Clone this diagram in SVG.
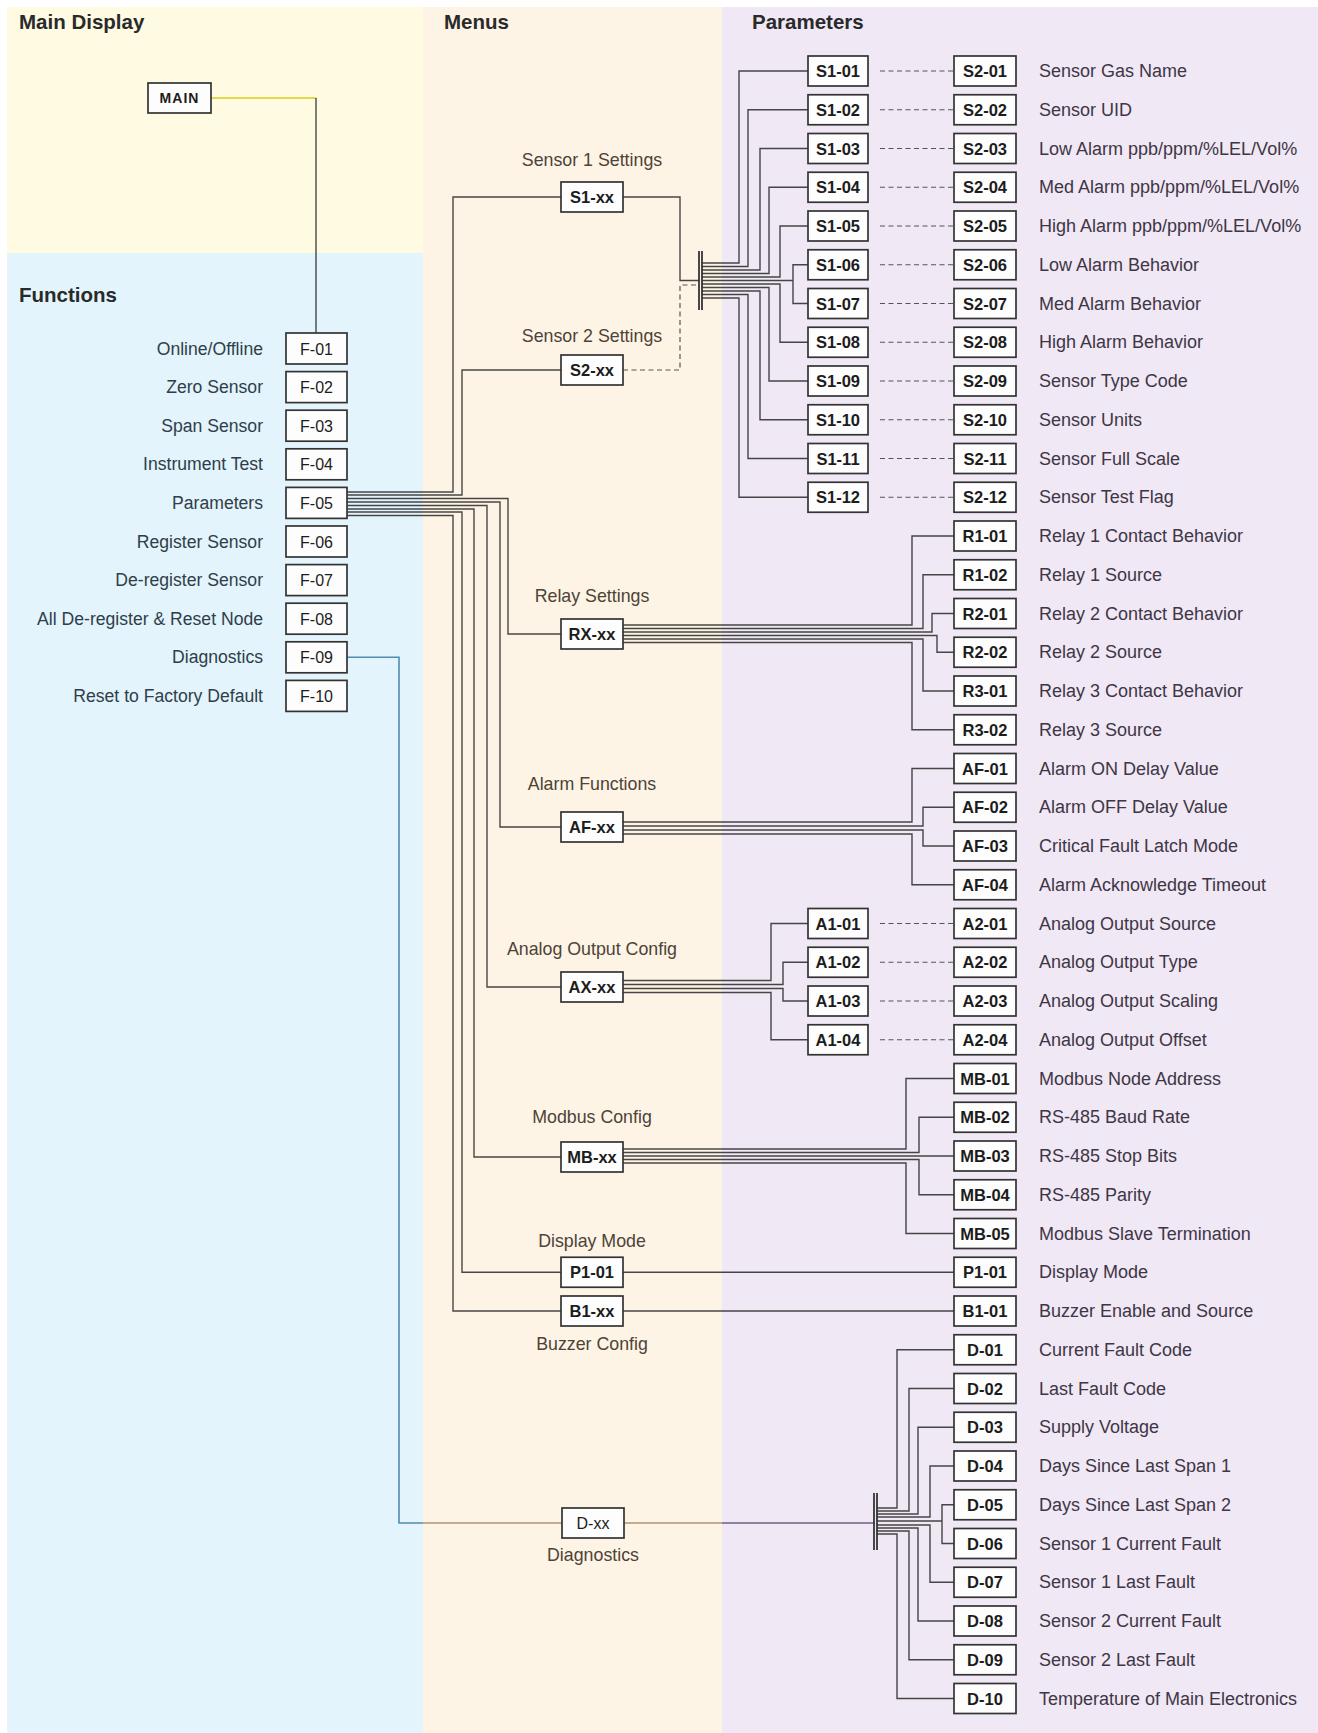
<svg xmlns="http://www.w3.org/2000/svg" width="1318" height="1733" viewBox="0 0 1318 1733">
<style>
.title{font-family:"Liberation Sans",Arial,sans-serif;font-size:20.5px;font-weight:bold;fill:#2a2a2a}
.box{fill:#fdfdfd;stroke:#333;stroke-width:1.7}
.bt{font-family:"Liberation Sans",Arial,sans-serif;font-size:16.5px;font-weight:bold;fill:#1c1c1c;text-anchor:middle}
.ft{font-family:"Liberation Sans",Arial,sans-serif;font-size:16px;fill:#1c1c1c;text-anchor:middle}
.fl{font-family:"Liberation Sans",Arial,sans-serif;font-size:17.6px;fill:#2f3e49;text-anchor:end}
.ml{font-family:"Liberation Sans",Arial,sans-serif;font-size:17.8px;fill:#4d4337;text-anchor:middle}
.pl{font-family:"Liberation Sans",Arial,sans-serif;font-size:18px;fill:#3e3646}
.w{fill:none;stroke:#2e2e2e;stroke-opacity:0.88;stroke-width:1.4}
.dash{fill:none;stroke:#555;stroke-width:1.2;stroke-dasharray:5 3.5}
.bar{fill:none;stroke:#2a2a2a;stroke-width:1.7}
</style>
<rect x="0" y="0" width="1318" height="1733" fill="#ffffff"/>
<g id="panels">
<rect x="7" y="7" width="416" height="246" fill="#fffbe3"/>
<rect x="7" y="253" width="416" height="1480" fill="#e3f4fc"/>
<rect x="423" y="7" width="299" height="1726" fill="#fef4e6"/>
<rect x="722" y="7" width="596" height="1726" fill="#f0e8f4"/>
</g>
<g id="titles">
<text class="title" x="19" y="29">Main Display</text>
<text class="title" x="19" y="302">Functions</text>
<text class="title" x="444" y="29">Menus</text>
<text class="title" x="752" y="29">Parameters</text>
</g>
<g id="connectors">
<path d="M211,98 H316" fill="none" stroke="#e3d94a" stroke-width="1.8"/>
<path class="w" d="M316,98 V333"/>
<path class="w" d="M347,492 H453 V197 H561 M347,495 H462 V370 H561 M347,498.5 H508 V634 H561 M347,502 H500 V827 H561 M347,505.5 H487 V987 H561 M347,509 H474 V1157 H561 M347,512 H462 V1272.25 H561 M347,515.5 H453 V1311 H561"/>
<path d="M347,657.3 H399 V1523 H423" fill="none" stroke="#4f8cb0" stroke-width="1.6"/>
<path d="M423,1523 H562 M624,1523 H722" fill="none" stroke="#b39370" stroke-width="1.6"/>
<path d="M722,1523 H874" fill="none" stroke="#6b5f82" stroke-width="1.6"/>
<path class="w" d="M623,197 H680 V280.5 H699"/>
<path class="dash" d="M623,370 H680 V285 H699"/>
<path class="bar" d="M699,251 V310 M702,251 V310"/>
<path class="w" d="M702,263 H739 V71 H808 M702,266.5 H748 V109.75 H808 M702,270 H760 V148.5 H808 M702,273.5 H769 V187.25 H808 M702,277 H780 V226 H808 M702,280.5 H793 V264.75 H808 M793,280.5 V303.5 H808 M702,284 H780 V342.25 H808 M702,287.5 H769 V381 H808 M702,291 H760 V419.75 H808 M702,294.5 H748 V458.5 H808 M702,298 H739 V497.25 H808"/>
<path class="dash" d="M880,71 H954 M880,109.75 H954 M880,148.5 H954 M880,187.25 H954 M880,226 H954 M880,264.75 H954 M880,303.5 H954 M880,342.25 H954 M880,381 H954 M880,419.75 H954 M880,458.5 H954 M880,497.25 H954"/>
<path class="w" d="M623,625 H912 V536 H954 M623,628.5 H923 V574.75 H954 M623,632 H932 V613.5 H954 M623,635.5 H937 V652.25 H954 M623,639 H923 V691 H954 M623,642.5 H912 V729.75 H954"/>
<path class="w" d="M623,822 H912 V768.5 H954 M623,826 H923 V807.25 H954 M623,830 H923 V846 H954 M623,834 H912 V884.75 H954"/>
<path class="w" d="M623,980.5 H771 V923.5 H808 M623,984.5 H783 V962.25 H808 M623,988.5 H783 V1001 H808 M623,992.5 H771 V1039.75 H808"/>
<path class="dash" d="M880,923.5 H954 M880,962.25 H954 M880,1001 H954 M880,1039.75 H954"/>
<path class="w" d="M623,1149 H906 V1078.5 H954 M623,1152.5 H919 V1117.25 H954 M623,1156 H954 M623,1159.5 H919 V1194.75 H954 M623,1163 H906 V1233.5 H954"/>
<path class="w" d="M623,1272.25 H954 M623,1311 H954"/>
<path class="bar" d="M874,1493 V1550 M877,1493 V1550"/>
<path class="w" d="M877,1508 H897 V1349.75 H954 M877,1511 H909 V1388.5 H954 M877,1514 H918 V1427.25 H954 M877,1517 H930 V1466 H954 M877,1521 H942 V1504.75 H954 M942,1521 V1543.5 H954 M877,1525 H930 V1582.25 H954 M877,1528 H918 V1621 H954 M877,1531 H909 V1659.75 H954 M877,1534 H897 V1698.5 H954"/>
</g>
<g id="n-MAIN"><rect class="box" x="148" y="83" width="63" height="30"/><text class="bt" x="179.5" y="103" style="font-size:14px;letter-spacing:1px">MAIN</text></g>
<g id="n-F-01"><rect class="box" x="286" y="333" width="61" height="31"/><text class="ft" x="316.5" y="354.5">F-01</text><text class="fl" x="263" y="354.5">Online/Offline</text></g>
<g id="n-F-02"><rect class="box" x="286" y="371.6" width="61" height="31"/><text class="ft" x="316.5" y="393.1">F-02</text><text class="fl" x="263" y="393.1">Zero Sensor</text></g>
<g id="n-F-03"><rect class="box" x="286" y="410.2" width="61" height="31"/><text class="ft" x="316.5" y="431.7">F-03</text><text class="fl" x="263" y="431.7">Span Sensor</text></g>
<g id="n-F-04"><rect class="box" x="286" y="448.8" width="61" height="31"/><text class="ft" x="316.5" y="470.3">F-04</text><text class="fl" x="263" y="470.3">Instrument Test</text></g>
<g id="n-F-05"><rect class="box" x="286" y="487.4" width="61" height="31"/><text class="ft" x="316.5" y="508.9">F-05</text><text class="fl" x="263" y="508.9">Parameters</text></g>
<g id="n-F-06"><rect class="box" x="286" y="526" width="61" height="31"/><text class="ft" x="316.5" y="547.5">F-06</text><text class="fl" x="263" y="547.5">Register Sensor</text></g>
<g id="n-F-07"><rect class="box" x="286" y="564.6" width="61" height="31"/><text class="ft" x="316.5" y="586.1">F-07</text><text class="fl" x="263" y="586.1">De-register Sensor</text></g>
<g id="n-F-08"><rect class="box" x="286" y="603.2" width="61" height="31"/><text class="ft" x="316.5" y="624.7">F-08</text><text class="fl" x="263" y="624.7">All De-register &amp; Reset Node</text></g>
<g id="n-F-09"><rect class="box" x="286" y="641.8" width="61" height="31"/><text class="ft" x="316.5" y="663.3">F-09</text><text class="fl" x="263" y="663.3">Diagnostics</text></g>
<g id="n-F-10"><rect class="box" x="286" y="680.4" width="61" height="31"/><text class="ft" x="316.5" y="701.9">F-10</text><text class="fl" x="263" y="701.9">Reset to Factory Default</text></g>
<g id="m-S1-xx"><text class="ml" x="592" y="166">Sensor 1 Settings</text><rect class="box" x="561" y="182" width="62" height="30"/><text class="bt" x="592" y="203">S1-xx</text></g>
<g id="m-S2-xx"><text class="ml" x="592" y="342">Sensor 2 Settings</text><rect class="box" x="561" y="355" width="62" height="30"/><text class="bt" x="592" y="376">S2-xx</text></g>
<g id="m-RX-xx"><text class="ml" x="592" y="602">Relay Settings</text><rect class="box" x="561" y="619" width="62" height="30"/><text class="bt" x="592" y="640">RX-xx</text></g>
<g id="m-AF-xx"><text class="ml" x="592" y="790">Alarm Functions</text><rect class="box" x="561" y="812" width="62" height="30"/><text class="bt" x="592" y="833">AF-xx</text></g>
<g id="m-AX-xx"><text class="ml" x="592" y="955">Analog Output Config</text><rect class="box" x="561" y="972" width="62" height="30"/><text class="bt" x="592" y="993">AX-xx</text></g>
<g id="m-MB-xx"><text class="ml" x="592" y="1123">Modbus Config</text><rect class="box" x="561" y="1142" width="62" height="30"/><text class="bt" x="592" y="1163">MB-xx</text></g>
<g id="m-P1-01"><text class="ml" x="592" y="1247">Display Mode</text><rect class="box" x="561" y="1257.25" width="62" height="30"/><text class="bt" x="592" y="1278.25">P1-01</text></g>
<g id="m-B1-xx"><rect class="box" x="561" y="1296" width="62" height="30"/><text class="bt" x="592" y="1317">B1-xx</text><text class="ml" x="592" y="1350">Buzzer Config</text></g>
<g id="m-D-xx"><rect class="box" x="562" y="1508" width="62" height="30"/><text class="bt" x="593" y="1529" style="font-weight:normal;font-size:16px">D-xx</text><text class="ml" x="593" y="1561">Diagnostics</text></g>
<g id="p-S1-01"><rect class="box" x="808" y="56" width="60" height="30"/><text class="bt" x="838" y="77">S1-01</text></g>
<g id="p-S2-01"><rect class="box" x="954" y="56" width="62" height="30"/><text class="bt" x="985" y="77">S2-01</text><text class="pl" x="1039" y="77">Sensor Gas Name</text></g>
<g id="p-S1-02"><rect class="box" x="808" y="94.75" width="60" height="30"/><text class="bt" x="838" y="115.75">S1-02</text></g>
<g id="p-S2-02"><rect class="box" x="954" y="94.75" width="62" height="30"/><text class="bt" x="985" y="115.75">S2-02</text><text class="pl" x="1039" y="115.75">Sensor UID</text></g>
<g id="p-S1-03"><rect class="box" x="808" y="133.5" width="60" height="30"/><text class="bt" x="838" y="154.5">S1-03</text></g>
<g id="p-S2-03"><rect class="box" x="954" y="133.5" width="62" height="30"/><text class="bt" x="985" y="154.5">S2-03</text><text class="pl" x="1039" y="154.5">Low Alarm ppb/ppm/%LEL/Vol%</text></g>
<g id="p-S1-04"><rect class="box" x="808" y="172.25" width="60" height="30"/><text class="bt" x="838" y="193.25">S1-04</text></g>
<g id="p-S2-04"><rect class="box" x="954" y="172.25" width="62" height="30"/><text class="bt" x="985" y="193.25">S2-04</text><text class="pl" x="1039" y="193.25">Med Alarm ppb/ppm/%LEL/Vol%</text></g>
<g id="p-S1-05"><rect class="box" x="808" y="211" width="60" height="30"/><text class="bt" x="838" y="232">S1-05</text></g>
<g id="p-S2-05"><rect class="box" x="954" y="211" width="62" height="30"/><text class="bt" x="985" y="232">S2-05</text><text class="pl" x="1039" y="232">High Alarm ppb/ppm/%LEL/Vol%</text></g>
<g id="p-S1-06"><rect class="box" x="808" y="249.75" width="60" height="30"/><text class="bt" x="838" y="270.75">S1-06</text></g>
<g id="p-S2-06"><rect class="box" x="954" y="249.75" width="62" height="30"/><text class="bt" x="985" y="270.75">S2-06</text><text class="pl" x="1039" y="270.75">Low Alarm Behavior</text></g>
<g id="p-S1-07"><rect class="box" x="808" y="288.5" width="60" height="30"/><text class="bt" x="838" y="309.5">S1-07</text></g>
<g id="p-S2-07"><rect class="box" x="954" y="288.5" width="62" height="30"/><text class="bt" x="985" y="309.5">S2-07</text><text class="pl" x="1039" y="309.5">Med Alarm Behavior</text></g>
<g id="p-S1-08"><rect class="box" x="808" y="327.25" width="60" height="30"/><text class="bt" x="838" y="348.25">S1-08</text></g>
<g id="p-S2-08"><rect class="box" x="954" y="327.25" width="62" height="30"/><text class="bt" x="985" y="348.25">S2-08</text><text class="pl" x="1039" y="348.25">High Alarm Behavior</text></g>
<g id="p-S1-09"><rect class="box" x="808" y="366" width="60" height="30"/><text class="bt" x="838" y="387">S1-09</text></g>
<g id="p-S2-09"><rect class="box" x="954" y="366" width="62" height="30"/><text class="bt" x="985" y="387">S2-09</text><text class="pl" x="1039" y="387">Sensor Type Code</text></g>
<g id="p-S1-10"><rect class="box" x="808" y="404.75" width="60" height="30"/><text class="bt" x="838" y="425.75">S1-10</text></g>
<g id="p-S2-10"><rect class="box" x="954" y="404.75" width="62" height="30"/><text class="bt" x="985" y="425.75">S2-10</text><text class="pl" x="1039" y="425.75">Sensor Units</text></g>
<g id="p-S1-11"><rect class="box" x="808" y="443.5" width="60" height="30"/><text class="bt" x="838" y="464.5">S1-11</text></g>
<g id="p-S2-11"><rect class="box" x="954" y="443.5" width="62" height="30"/><text class="bt" x="985" y="464.5">S2-11</text><text class="pl" x="1039" y="464.5">Sensor Full Scale</text></g>
<g id="p-S1-12"><rect class="box" x="808" y="482.25" width="60" height="30"/><text class="bt" x="838" y="503.25">S1-12</text></g>
<g id="p-S2-12"><rect class="box" x="954" y="482.25" width="62" height="30"/><text class="bt" x="985" y="503.25">S2-12</text><text class="pl" x="1039" y="503.25">Sensor Test Flag</text></g>
<g id="p-R1-01"><rect class="box" x="954" y="521" width="62" height="30"/><text class="bt" x="985" y="542">R1-01</text><text class="pl" x="1039" y="542">Relay 1 Contact Behavior</text></g>
<g id="p-R1-02"><rect class="box" x="954" y="559.75" width="62" height="30"/><text class="bt" x="985" y="580.75">R1-02</text><text class="pl" x="1039" y="580.75">Relay 1 Source</text></g>
<g id="p-R2-01"><rect class="box" x="954" y="598.5" width="62" height="30"/><text class="bt" x="985" y="619.5">R2-01</text><text class="pl" x="1039" y="619.5">Relay 2 Contact Behavior</text></g>
<g id="p-R2-02"><rect class="box" x="954" y="637.25" width="62" height="30"/><text class="bt" x="985" y="658.25">R2-02</text><text class="pl" x="1039" y="658.25">Relay 2 Source</text></g>
<g id="p-R3-01"><rect class="box" x="954" y="676" width="62" height="30"/><text class="bt" x="985" y="697">R3-01</text><text class="pl" x="1039" y="697">Relay 3 Contact Behavior</text></g>
<g id="p-R3-02"><rect class="box" x="954" y="714.75" width="62" height="30"/><text class="bt" x="985" y="735.75">R3-02</text><text class="pl" x="1039" y="735.75">Relay 3 Source</text></g>
<g id="p-AF-01"><rect class="box" x="954" y="753.5" width="62" height="30"/><text class="bt" x="985" y="774.5">AF-01</text><text class="pl" x="1039" y="774.5">Alarm ON Delay Value</text></g>
<g id="p-AF-02"><rect class="box" x="954" y="792.25" width="62" height="30"/><text class="bt" x="985" y="813.25">AF-02</text><text class="pl" x="1039" y="813.25">Alarm OFF Delay Value</text></g>
<g id="p-AF-03"><rect class="box" x="954" y="831" width="62" height="30"/><text class="bt" x="985" y="852">AF-03</text><text class="pl" x="1039" y="852">Critical Fault Latch Mode</text></g>
<g id="p-AF-04"><rect class="box" x="954" y="869.75" width="62" height="30"/><text class="bt" x="985" y="890.75">AF-04</text><text class="pl" x="1039" y="890.75">Alarm Acknowledge Timeout</text></g>
<g id="p-A1-01"><rect class="box" x="808" y="908.5" width="60" height="30"/><text class="bt" x="838" y="929.5">A1-01</text></g>
<g id="p-A2-01"><rect class="box" x="954" y="908.5" width="62" height="30"/><text class="bt" x="985" y="929.5">A2-01</text><text class="pl" x="1039" y="929.5">Analog Output Source</text></g>
<g id="p-A1-02"><rect class="box" x="808" y="947.25" width="60" height="30"/><text class="bt" x="838" y="968.25">A1-02</text></g>
<g id="p-A2-02"><rect class="box" x="954" y="947.25" width="62" height="30"/><text class="bt" x="985" y="968.25">A2-02</text><text class="pl" x="1039" y="968.25">Analog Output Type</text></g>
<g id="p-A1-03"><rect class="box" x="808" y="986" width="60" height="30"/><text class="bt" x="838" y="1007">A1-03</text></g>
<g id="p-A2-03"><rect class="box" x="954" y="986" width="62" height="30"/><text class="bt" x="985" y="1007">A2-03</text><text class="pl" x="1039" y="1007">Analog Output Scaling</text></g>
<g id="p-A1-04"><rect class="box" x="808" y="1024.75" width="60" height="30"/><text class="bt" x="838" y="1045.75">A1-04</text></g>
<g id="p-A2-04"><rect class="box" x="954" y="1024.75" width="62" height="30"/><text class="bt" x="985" y="1045.75">A2-04</text><text class="pl" x="1039" y="1045.75">Analog Output Offset</text></g>
<g id="p-MB-01"><rect class="box" x="954" y="1063.5" width="62" height="30"/><text class="bt" x="985" y="1084.5">MB-01</text><text class="pl" x="1039" y="1084.5">Modbus Node Address</text></g>
<g id="p-MB-02"><rect class="box" x="954" y="1102.25" width="62" height="30"/><text class="bt" x="985" y="1123.25">MB-02</text><text class="pl" x="1039" y="1123.25">RS-485 Baud Rate</text></g>
<g id="p-MB-03"><rect class="box" x="954" y="1141" width="62" height="30"/><text class="bt" x="985" y="1162">MB-03</text><text class="pl" x="1039" y="1162">RS-485 Stop Bits</text></g>
<g id="p-MB-04"><rect class="box" x="954" y="1179.75" width="62" height="30"/><text class="bt" x="985" y="1200.75">MB-04</text><text class="pl" x="1039" y="1200.75">RS-485 Parity</text></g>
<g id="p-MB-05"><rect class="box" x="954" y="1218.5" width="62" height="30"/><text class="bt" x="985" y="1239.5">MB-05</text><text class="pl" x="1039" y="1239.5">Modbus Slave Termination</text></g>
<g id="p-P1-01"><rect class="box" x="954" y="1257.25" width="62" height="30"/><text class="bt" x="985" y="1278.25">P1-01</text><text class="pl" x="1039" y="1278.25">Display Mode</text></g>
<g id="p-B1-01"><rect class="box" x="954" y="1296" width="62" height="30"/><text class="bt" x="985" y="1317">B1-01</text><text class="pl" x="1039" y="1317">Buzzer Enable and Source</text></g>
<g id="p-D-01"><rect class="box" x="954" y="1334.75" width="62" height="30"/><text class="bt" x="985" y="1355.75">D-01</text><text class="pl" x="1039" y="1355.75">Current Fault Code</text></g>
<g id="p-D-02"><rect class="box" x="954" y="1373.5" width="62" height="30"/><text class="bt" x="985" y="1394.5">D-02</text><text class="pl" x="1039" y="1394.5">Last Fault Code</text></g>
<g id="p-D-03"><rect class="box" x="954" y="1412.25" width="62" height="30"/><text class="bt" x="985" y="1433.25">D-03</text><text class="pl" x="1039" y="1433.25">Supply Voltage</text></g>
<g id="p-D-04"><rect class="box" x="954" y="1451" width="62" height="30"/><text class="bt" x="985" y="1472">D-04</text><text class="pl" x="1039" y="1472">Days Since Last Span 1</text></g>
<g id="p-D-05"><rect class="box" x="954" y="1489.75" width="62" height="30"/><text class="bt" x="985" y="1510.75">D-05</text><text class="pl" x="1039" y="1510.75">Days Since Last Span 2</text></g>
<g id="p-D-06"><rect class="box" x="954" y="1528.5" width="62" height="30"/><text class="bt" x="985" y="1549.5">D-06</text><text class="pl" x="1039" y="1549.5">Sensor 1 Current Fault</text></g>
<g id="p-D-07"><rect class="box" x="954" y="1567.25" width="62" height="30"/><text class="bt" x="985" y="1588.25">D-07</text><text class="pl" x="1039" y="1588.25">Sensor 1 Last Fault</text></g>
<g id="p-D-08"><rect class="box" x="954" y="1606" width="62" height="30"/><text class="bt" x="985" y="1627">D-08</text><text class="pl" x="1039" y="1627">Sensor 2 Current Fault</text></g>
<g id="p-D-09"><rect class="box" x="954" y="1644.75" width="62" height="30"/><text class="bt" x="985" y="1665.75">D-09</text><text class="pl" x="1039" y="1665.75">Sensor 2 Last Fault</text></g>
<g id="p-D-10"><rect class="box" x="954" y="1683.5" width="62" height="30"/><text class="bt" x="985" y="1704.5">D-10</text><text class="pl" x="1039" y="1704.5">Temperature of Main Electronics</text></g>
</svg>
